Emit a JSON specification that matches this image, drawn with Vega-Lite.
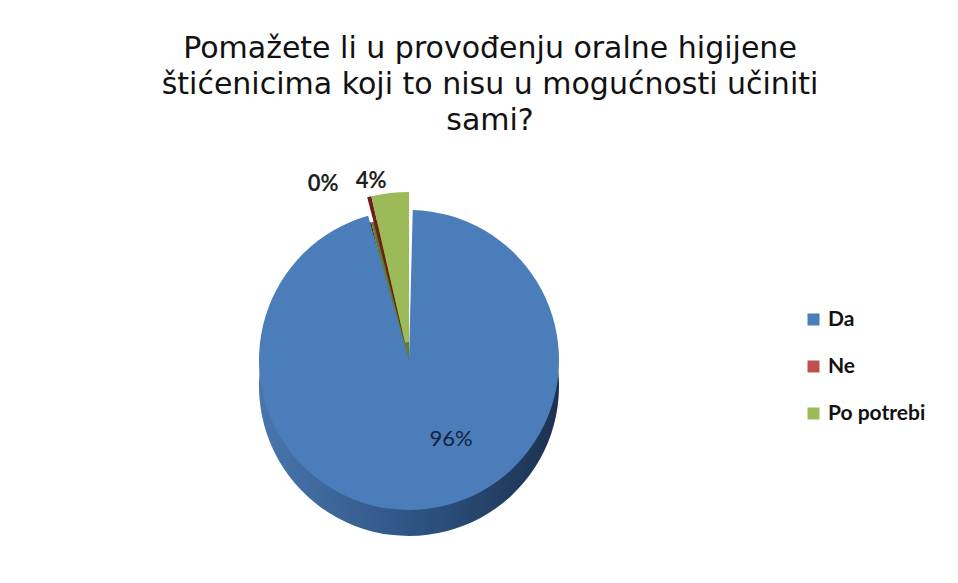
{
  "$schema": "https://vega.github.io/schema/vega-lite/v6.json",
  "width": 958,
  "height": 583,
  "autosize": {"type": "fit", "contains": "padding"},
  "padding": {"left": 10, "right": 150, "top": 34, "bottom": 10},
  "background": "white",
  "title": {
    "text": ["Pomažete li u provođenju oralne higijene", "štićenicima koji to nisu u mogućnosti učiniti", "sami?"],
    "font": "DejaVu Sans",
    "fontSize": 30,
    "fontWeight": "normal",
    "lineHeight": 36,
    "color": "#111111",
    "anchor": "middle",
    "dx": 81,
    "offset": 11
  },
  "data": {
    "values": [
      {"Kategorija": "Da", "Postotak": 96, "Oznaka": "96%"},
      {"Kategorija": "Ne", "Postotak": 0.4, "Oznaka": "0%"},
      {"Kategorija": "Po potrebi", "Postotak": 3.6, "Oznaka": "4%"}
    ]
  },
  "transform": [
    {"stack": "Postotak", "groupby": [], "sort": [{"field": "Kategorija", "order": "ascending"}], "as": ["t0", "t1"]}
  ],
  "layer": [
    {
      "transform": [{"filter": "datum.Kategorija !== 'Da'"}],
      "mark": {"type": "arc", "radius": 168, "radius2": 18, "yOffset": 26},
      "encoding": {
        "theta": {"field": "t0", "type": "quantitative", "scale": {"domain": [0, 100]}},
        "theta2": {"field": "t1"},
        "color": {"condition": {"test": "datum.Kategorija === 'Ne'", "value": "#5a1a18"}, "value": "#5f7d2c"}
      }
    },
    {
      "transform": [{"filter": "datum.Kategorija !== 'Da'"}],
      "mark": {"type": "arc", "radius": 168, "radius2": 18},
      "encoding": {
        "theta": {"field": "t0", "type": "quantitative", "scale": {"domain": [0, 100]}},
        "theta2": {"field": "t1"},
        "color": {"condition": {"test": "datum.Kategorija === 'Ne'", "value": "#6e1f1c"}, "value": "#9bbb59"}
      }
    },
    {
      "transform": [{"filter": "datum.Kategorija === 'Da'"}],
      "mark": {
        "type": "arc",
        "radius": 150,
        "padAngle": 0.05,
        "yOffset": 26,
        "color": {
          "gradient": "linear",
          "x1": 0, "y1": 0, "x2": 1, "y2": 0,
          "stops": [
            {"offset": 0, "color": "#4a76ad"},
            {"offset": 0.5, "color": "#2f5585"},
            {"offset": 1, "color": "#1c3150"}
          ]
        }
      },
      "encoding": {
        "theta": {"field": "t0", "type": "quantitative", "scale": {"domain": [0, 100]}},
        "theta2": {"field": "t1"}
      }
    },
    {
      "transform": [{"filter": "datum.Kategorija === 'Da'"}],
      "mark": {"type": "arc", "radius": 150, "padAngle": 0.05},
      "encoding": {
        "theta": {"field": "t0", "type": "quantitative", "scale": {"domain": [0, 100]}},
        "theta2": {"field": "t1"},
        "color": {
          "field": "Kategorija",
          "type": "nominal",
          "scale": {"domain": ["Da", "Ne", "Po potrebi"], "range": ["#4a7dba", "#c0504d", "#9bbb59"]}
        }
      }
    },
    {
      "mark": {"type": "text", "radius": 80, "dx": 32, "font": "Lato", "fontSize": 22, "color": "#14243f"},
      "encoding": {
        "theta": {"field": "Postotak", "type": "quantitative", "stack": true},
        "order": {"field": "Kategorija"},
        "text": {"condition": {"test": "datum.Kategorija === 'Da'", "field": "Oznaka"}, "value": ""}
      }
    },
    {
      "mark": {"type": "text", "radius": 185, "dx": -42, "dy": 4, "font": "Lato", "fontSize": 22, "fontWeight": "bold", "color": "#1f1f1f"},
      "encoding": {
        "theta": {"field": "Postotak", "type": "quantitative", "stack": true},
        "order": {"field": "Kategorija"},
        "text": {"condition": {"test": "datum.Kategorija === 'Ne'", "field": "Oznaka"}, "value": ""}
      }
    },
    {
      "mark": {"type": "text", "radius": 185, "dx": -17, "dy": 5, "font": "Lato", "fontSize": 22, "fontWeight": "bold", "color": "#1f1f1f"},
      "encoding": {
        "theta": {"field": "Postotak", "type": "quantitative", "stack": true},
        "order": {"field": "Kategorija"},
        "text": {"condition": {"test": "datum.Kategorija === 'Po potrebi'", "field": "Oznaka"}, "value": ""}
      }
    }
  ],
  "config": {
    "view": {"stroke": null},
    "legend": {
      "orient": "none",
      "legendX": 793,
      "legendY": 162,
      "title": null,
      "symbolType": "square",
      "symbolSize": 144,
      "symbolStrokeWidth": 0,
      "labelFont": "Lato",
      "labelFontSize": 21,
      "labelFontWeight": "bold",
      "labelColor": "#111111",
      "rowPadding": 25,
      "labelOffset": 4
    }
  }
}
